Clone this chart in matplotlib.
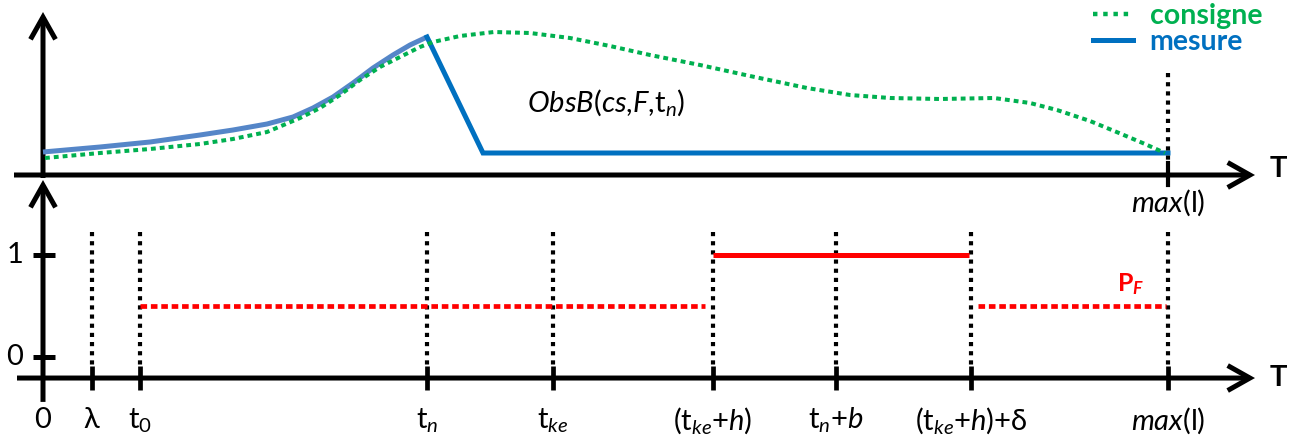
import numpy as np
import matplotlib
matplotlib.use('Agg')
import matplotlib.pyplot as plt
from matplotlib.patches import FancyArrowPatch
from matplotlib.lines import Line2D

plt.rcParams['font.family'] = ['Lato', 'DejaVu Sans']
plt.rcParams['mathtext.fontset'] = 'custom'
plt.rcParams['mathtext.rm'] = 'Lato'
plt.rcParams['mathtext.it'] = 'Lato:italic'
plt.rcParams['mathtext.bf'] = 'Lato:bold'
plt.rcParams['mathtext.bfit'] = 'Lato:bold:italic'
plt.rcParams['mathtext.fallback'] = 'stixsans'

#### DATA ####
# event times on the T axis (arbitrary units)
event_labels = [r'$\mathrm{\lambda}$', r't$_0$', r't$_n$', r't$_{ke}$',
                r'(t$_{ke}$+$h$)', r't$_n$+$b$', r'(t$_{ke}$+$h$)+$\mathrm{\delta}$', r'$max$(l)']
event_times = [4.9, 9.7, 38.4, 51.0, 67.0, 79.3, 92.8, 112.5]
t_max = 112.5

# consigne (set point), top panel
consigne_t = [0.2, 5.7, 10.7, 15.7, 19.0, 22.4, 25.7, 27.7, 29.7, 31.7, 33.7, 35.7, 37.7, 39.0,
              41.7, 45.1, 48.7, 52.7, 56.7, 60.7, 65.7, 70.7, 76.4, 80.7, 84.7, 89.7, 95.1,
              98.7, 101.4, 104.7, 107.6, 110.2, 112.2]
consigne_v = [1.7, 2.2, 2.6, 3.1, 3.6, 4.3, 5.7, 6.7, 8.0, 9.5, 10.8, 11.8, 12.8, 13.3,
              13.9, 14.3, 14.2, 13.7, 12.9, 12.0, 11.0, 9.9, 8.7, 8.0, 7.7, 7.6, 7.7,
              7.2, 6.5, 5.4, 4.2, 3.1, 2.2]

# mesure (measurement), top panel: rising part then the drop and flat part
mesure_rise_t = [0.0, 5.7, 10.7, 15.7, 19.0, 22.4, 25.0, 27.0, 29.0, 31.0, 33.0, 35.0, 36.7, 38.4]
mesure_rise_v = [2.3, 2.8, 3.3, 4.0, 4.5, 5.1, 5.8, 6.7, 7.8, 9.2, 10.7, 12.0, 13.0, 13.8]
mesure_fall_t = [38.4, 44.0, 112.5]
mesure_fall_v = [13.8, 2.2, 2.2]

# P_F, bottom panel
pf_levels = [0.5, 1.0, 0.5]
pf_starts = [9.7, 67.0, 93.5]
pf_ends = [66.2, 92.6, 112.3]
pf_styles = ['dotted', 'solid', 'dotted']

green = '#00B050'
blue = '#0070C0'
blue_light = '#5586C8'
red = '#FF0000'
fs = 21

fig = plt.figure(figsize=(12.93, 4.37), dpi=100)
ax_top = fig.add_axes([0, 247 / 437, 1, 190 / 437])
ax_bot = fig.add_axes([0, 0, 1, 247 / 437])
ax_top.set_xlim(-4.3, 125.0)
ax_top.set_ylim(-1.5, 17.5)
ax_bot.set_xlim(-4.3, 125.0)
ax_bot.set_ylim(-0.784, 1.637)
for ax in (ax_top, ax_bot):
    ax.axis('off')


def arrow(ax, p0, p1):
    """ thick black axis with open arrow head """
    a = FancyArrowPatch(p0, p1, arrowstyle='->,head_length=0.8,head_width=0.45',
                        mutation_scale=20, lw=3.6, color='k', shrinkA=0, shrinkB=0,
                        clip_on=False, joinstyle='miter', capstyle='butt')
    ax.add_patch(a)


# axes of top panel
arrow(ax_top, (-2.9, 0), (121.2, 0))
arrow(ax_top, (0, -0.3), (0, 16.3))
ax_top.text(122.7, 0.6, 'T', fontsize=fs, fontweight='bold', ha='left', va='center')

# top panel curves
ax_top.plot(mesure_rise_t, mesure_rise_v, color=blue_light, lw=3.6, solid_capstyle='butt')
ax_top.plot(mesure_fall_t, mesure_fall_v, color=blue, lw=3.6, solid_joinstyle='miter')
ax_top.plot(consigne_t, consigne_v, color=green, lw=2.9, linestyle=(0, (1.2, 1.0)))

# max line in top panel
ax_top.plot([t_max, t_max], [10.2, 1.2], color='k', lw=3, linestyle=(0, (1, 1.2)), clip_on=False)
ax_top.plot([t_max, t_max], [1.2, -1.0], color='k', lw=3, clip_on=False)
ax_top.text(t_max, -2.8, r'$max$(l)', fontsize=fs, ha='center', va='center', clip_on=False)

ax_top.text(48.4, 7.3, r'$ObsB(cs{,}F{,}$t$_n$)', fontsize=fs, ha='left', va='center')

# legend
handles = [Line2D([], [], color=green, lw=3.2, linestyle=(0, (1, 1.3))),
           Line2D([], [], color=blue, lw=3.6)]
leg = ax_top.legend(handles, ['consigne', 'mesure'], loc='upper right', frameon=False,
                    bbox_to_anchor=(0.985, 1.045), handlelength=1.4, handletextpad=0.6,
                    labelspacing=0.0, prop={'weight': 'bold', 'size': 20.5},
                    labelcolor=[green, blue], borderaxespad=0)

# axes of bottom panel
axis_y = -0.206
arrow(ax_bot, (-2.6, axis_y), (121.2, axis_y))
arrow(ax_bot, (0, -0.44), (0, 1.735))
ax_bot.text(122.7, axis_y, 'T', fontsize=fs, fontweight='bold', ha='left', va='center')

# y ticks 0 and 1
for yv in [0, 1]:
    ax_bot.plot([-1.0, 1.2], [yv, yv], color='k', lw=3.6, solid_capstyle='butt')
    ax_bot.text(-2.8, yv, str(yv), fontsize=fs, ha='center', va='center')

ax_bot.text(0, -0.62, '0', fontsize=fs, ha='center', va='center')

# event lines, ticks and labels
for t, lab in zip(event_times, event_labels):
    ax_bot.plot([t, t], [1.225, -0.09], color='k', lw=3, linestyle=(0, (1, 1.2)))
    ax_bot.plot([t, t], [-0.09, -0.324], color='k', lw=3.4, solid_capstyle='butt')
    ax_bot.text(t, -0.62, lab, fontsize=fs, ha='center', va='center')

# P_F
for lv, t0, t1, ls in zip(pf_levels, pf_starts, pf_ends, pf_styles):
    if ls == 'dotted':
        ax_bot.plot([t0, t1], [lv, lv], color=red, lw=3.4, linestyle=(0, (1.4, 0.8)))
    else:
        ax_bot.plot([t0, t1], [lv, lv], color=red, lw=3.6, solid_capstyle='butt')
ax_bot.text(108.8, 0.72, r'$\mathbf{P}_{\boldsymbol{F}}$', fontsize=18, color=red,
            ha='center', va='center')

fig.savefig('out.png', dpi=100)
